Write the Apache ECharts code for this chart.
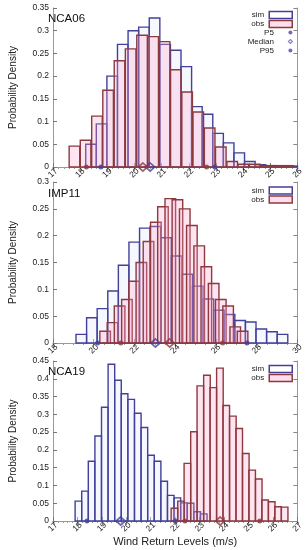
<!DOCTYPE html>
<html><head><meta charset="utf-8">
<script src="https://cdn.jsdelivr.net/npm/echarts@6/dist/echarts.min.js"></script>
<style>html,body{margin:0;padding:0;background:#fff}#c{width:306px;height:550px}</style>
</head><body><div id="c"></div>
<script>
// ---------- NCA06 ----------
const nca06SimCenters = [18.40, 18.79, 19.18, 19.57, 19.96, 20.35, 20.74, 21.13, 21.52, 21.91, 22.30, 22.69, 23.08, 23.47, 23.86, 24.25, 24.64, 25.03, 25.42, 25.81];
const nca06SimDensity = [0.05, 0.095, 0.2, 0.27, 0.30, 0.308, 0.328, 0.27, 0.257, 0.221, 0.133, 0.116, 0.074, 0.053, 0.031, 0.012, 0.005, 0.003, 0.002, 0.002];
const nca06ObsCenters = [17.79, 18.20, 18.62, 19.03, 19.45, 19.86, 20.28, 20.69, 21.11, 21.52, 21.94, 22.35, 22.77, 23.18, 23.60, 24.01, 24.43, 24.84, 25.26, 25.67];
const nca06ObsDensity = [0.046, 0.059, 0.112, 0.169, 0.234, 0.26, 0.29, 0.287, 0.276, 0.214, 0.165, 0.121, 0.086, 0.044, 0.012, 0.006, 0.006, 0.003, 0.003, 0.003];
const nca06SimPct = [18.76, 20.58, 22.96];   // P5, Median, P95
const nca06ObsPct = [18.23, 20.31, 22.66];
const nca06Ticks = [17, 26, 1];

// ---------- IMP11 ----------
const imp11SimCenters = [19.39, 19.91, 20.43, 20.95, 21.47, 21.99, 22.51, 23.03, 23.55, 24.07, 24.59, 25.11, 25.63, 26.15, 26.67, 27.19, 27.71, 28.23, 28.75, 29.27];
const imp11SimDensity = [0.016, 0.047, 0.064, 0.097, 0.145, 0.188, 0.214, 0.217, 0.196, 0.162, 0.128, 0.106, 0.082, 0.061, 0.053, 0.042, 0.039, 0.026, 0.021, 0.016];
const imp11ObsCenters = [20.56, 20.92, 21.27, 21.63, 21.98, 22.34, 22.69, 23.05, 23.40, 23.76, 24.11, 24.47, 24.82, 25.18, 25.53, 25.89, 26.24, 26.60, 26.95, 27.31];
const imp11ObsDensity = [0.022, 0.038, 0.069, 0.081, 0.115, 0.150, 0.189, 0.225, 0.254, 0.269, 0.267, 0.25, 0.219, 0.181, 0.142, 0.111, 0.081, 0.069, 0.030, 0.022];
const imp11SimPct = [20.19, 23.03, 27.53];
const imp11ObsPct = [21.33, 23.73, 26.33];
const imp11Ticks = [18, 30, 2];

// ---------- NCA19 ----------
const nca19SimCenters = [18.04, 18.31, 18.58, 18.85, 19.12, 19.39, 19.66, 19.93, 20.20, 20.47, 20.74, 21.01, 21.28, 21.55, 21.82, 22.09, 22.36, 22.63, 22.90, 23.17];
const nca19SimDensity = [0.056, 0.084, 0.168, 0.239, 0.32, 0.441, 0.396, 0.358, 0.342, 0.303, 0.263, 0.185, 0.168, 0.112, 0.072, 0.065, 0.051, 0.05, 0.026, 0.02];
const nca19ObsCenters = [21.97, 22.24, 22.50, 22.77, 23.03, 23.30, 23.56, 23.83, 24.09, 24.36, 24.62, 24.89, 25.15, 25.42, 25.68, 25.95, 26.21, 26.48];
const nca19ObsDensity = [0.036, 0.056, 0.162, 0.251, 0.38, 0.41, 0.375, 0.43, 0.325, 0.295, 0.26, 0.19, 0.143, 0.118, 0.059, 0.054, 0.04, 0.039];
const nca19SimPct = [18.39, 19.77, 22.01];
const nca19ObsPct = [22.40, 23.84, 25.46];
const nca19Ticks = [17, 27, 1];

const panelNames = ['NCA06', 'IMP11', 'NCA19'];
const yMaxes = [0.35, 0.3, 0.45];

const FONT = 'Liberation Sans, Arial, sans-serif';
const SIM_C = '#43409a';
const OBS_C = '#8c3a3e';
const SIM_FILL = 'rgba(230,238,252,0.4)';
const OBS_FILL = 'rgba(255,160,205,0.28)';

const panels = [
  {sc: nca06SimCenters, sd: nca06SimDensity, oc: nca06ObsCenters, od: nca06ObsDensity, sp: nca06SimPct, op: nca06ObsPct, tk: nca06Ticks, sw: 0.39, ow: 0.39, minor: 5},
  {sc: imp11SimCenters, sd: imp11SimDensity, oc: imp11ObsCenters, od: imp11ObsDensity, sp: imp11SimPct, op: imp11ObsPct, tk: imp11Ticks, sw: 0.52, ow: 0.52, minor: 4},
  {sc: nca19SimCenters, sd: nca19SimDensity, oc: nca19ObsCenters, od: nca19ObsDensity, sp: nca19SimPct, op: nca19ObsPct, tk: nca19Ticks, sw: 0.27, ow: 0.27, minor: 5}
];
const grids = [
  {left: 42, top: 8, width: 256, height: 159},
  {left: 42, top: 182, width: 256, height: 161},
  {left: 42, top: 361, width: 256, height: 160}
];

function boxSeries(name, gi, centers, density, boxW, stroke, fill, z) {
  return {
    type: 'custom', name: name, xAxisIndex: gi * 2, yAxisIndex: gi * 2, z: z, silent: true,
    data: centers.map((c, i) => [c, density[i]]),
    encode: {x: 0, y: 1},
    renderItem: function (params, api) {
      const c = api.value(0), h = api.value(1);
      const a = api.coord([c - boxW / 2, h]);
      const b = api.coord([c + boxW / 2, 0]);
      return {type: 'rect', shape: {x: a[0], y: a[1], width: b[0] - a[0], height: b[1] - a[1]},
        style: {fill: fill, stroke: stroke, lineWidth: 1.4}};
    }
  };
}

const xAxes = [], yAxes = [], series = [], titles = [], legends = [];
panels.forEach((p, gi) => {
  const last = gi === 2;
  xAxes.push({
    gridIndex: gi, type: 'value', min: p.tk[0], max: p.tk[1], interval: p.tk[2], position: 'bottom',
    axisLine: {show: true, lineStyle: {color: '#999', width: 1}},
    axisTick: {show: true, inside: true, length: 4, lineStyle: {color: '#777'}},
    splitLine: {show: false},
    axisLabel: {rotate: 45, align: 'center', verticalAlign: 'middle', fontSize: 8.5, color: '#222', margin: 6, fontFamily: FONT},
    name: last ? 'Wind Return Levels (m/s)' : '', nameLocation: 'middle', nameGap: 14,
    nameTextStyle: {fontSize: 11, color: '#222', fontFamily: FONT, verticalAlign: 'top'}
  });
  xAxes.push({
    gridIndex: gi, type: 'value', min: p.tk[0], max: p.tk[1], interval: p.tk[2], position: 'top',
    axisLine: {show: true, lineStyle: {color: '#999', width: 1}},
    axisTick: {show: true, inside: true, length: 4, lineStyle: {color: '#888'}},
    minorTick: {show: true, splitNumber: p.minor, length: 2, lineStyle: {color: '#999'}},
    axisLabel: {show: false}, splitLine: {show: false}
  });
  yAxes.push({
    gridIndex: gi, type: 'value', min: 0, max: yMaxes[gi], interval: 0.05, position: 'left',
    axisLine: {show: true, lineStyle: {color: '#999', width: 1}},
    axisTick: {show: true, inside: true, length: 4, lineStyle: {color: '#777'}},
    splitLine: {show: false},
    axisLabel: {fontSize: 8.5, color: '#222', margin: 4, fontFamily: FONT},
    name: 'Probability Density', nameLocation: 'middle', nameGap: 35, nameRotate: 90,
    nameTextStyle: {fontSize: 10, color: '#222', fontFamily: FONT}
  });
  yAxes.push({
    gridIndex: gi, type: 'value', min: 0, max: yMaxes[gi], interval: 0.05, position: 'right',
    axisLine: {show: true, lineStyle: {color: '#999', width: 1}},
    axisTick: {show: true, inside: true, length: 4, lineStyle: {color: '#888'}},
    axisLabel: {show: false}, splitLine: {show: false}
  });

  series.push(boxSeries('sim', gi, p.sc, p.sd, p.sw, SIM_C, SIM_FILL, 2));
  series.push(boxSeries('obs', gi, p.oc, p.od, p.ow, OBS_C, OBS_FILL, 3));

  const markerNames = ['P5', 'Median', 'P95'];
  markerNames.forEach((mn, k) => {
    const isMed = k === 1;
    series.push({
      type: 'scatter', name: mn, xAxisIndex: gi * 2, yAxisIndex: gi * 2, z: 10, clip: false, silent: true,
      symbol: isMed ? 'diamond' : 'circle', symbolSize: isMed ? [9, 8] : 5,
      data: [
        {value: [p.sp[k], 0], itemStyle: isMed ? {color: 'rgba(255,255,255,0)', borderColor: SIM_C, borderWidth: 1.8} : {color: SIM_C}},
        {value: [p.op[k], 0], itemStyle: isMed ? {color: 'rgba(255,255,255,0)', borderColor: OBS_C, borderWidth: 1.8} : {color: OBS_C}}
      ]
    });
  });

  titles.push({text: panelNames[gi], left: 48, top: [13, 188, 366][gi], padding: 0,
    textStyle: {fontSize: 11.5, fontWeight: 'normal', color: '#111', fontFamily: FONT}});

  legends.push({
    orient: 'vertical', align: 'right', right: 13, top: [10.5, 186, 364.5][gi], padding: 0,
    itemWidth: 23, itemHeight: 7, itemGap: 0, selectedMode: false,
    textStyle: {fontSize: 8, lineHeight: 9, color: '#222', fontFamily: FONT},
    data: [
      {name: 'sim', icon: 'rect', itemStyle: {color: '#fff', borderColor: SIM_C, borderWidth: 1.5}},
      {name: 'obs', icon: 'rect', itemStyle: {color: 'rgba(255,200,225,0.6)', borderColor: OBS_C, borderWidth: 1.5}}
    ]
  });
});
legends.push({
  orient: 'vertical', align: 'right', right: 13, top: 28, padding: 0,
  itemWidth: 23, itemHeight: 4, itemGap: 0, selectedMode: false, symbolKeepAspect: true,
  textStyle: {fontSize: 8, lineHeight: 9, color: '#222', fontFamily: FONT},
  data: [
    {name: 'P5', icon: 'circle', itemStyle: {color: '#4a48a8', borderWidth: 0}},
    {name: 'Median', icon: 'path://M2,0L4,2L2,4L0,2Z', itemStyle: {color: '#fff', borderColor: '#6a68b0', borderWidth: 1.2}},
    {name: 'P95', icon: 'circle', itemStyle: {color: '#4a48a8', borderWidth: 0}}
  ]
});

const chart = echarts.init(document.getElementById('c'), null, {renderer: 'canvas'});
chart.setOption({
  animation: false,
  backgroundColor: '#fff',
  title: titles,
  legend: legends,
  grid: grids.map(g => Object.assign({show: false, containLabel: false}, g)),
  xAxis: xAxes,
  yAxis: yAxes,
  series: series
});
</script>
</body></html>
